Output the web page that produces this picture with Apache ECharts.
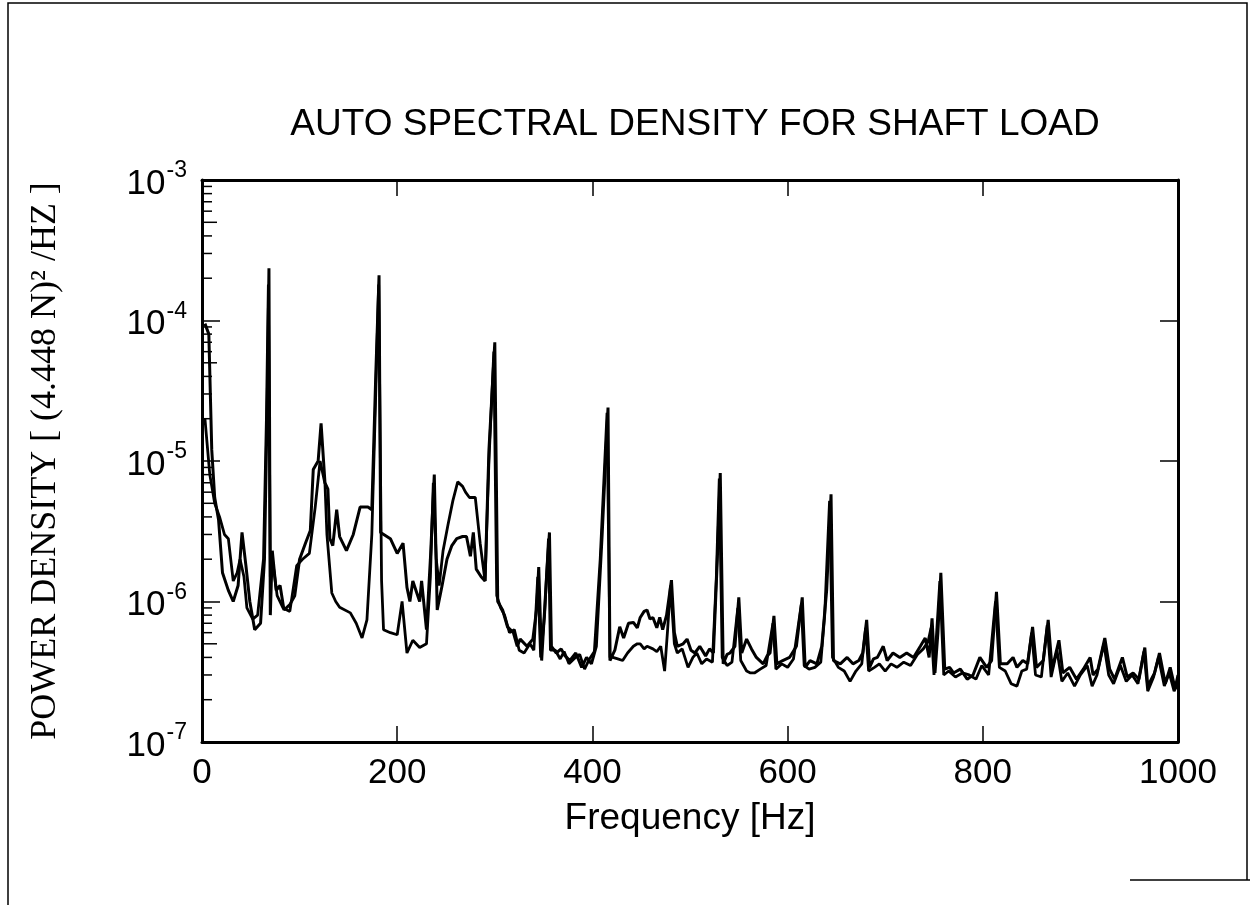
<!DOCTYPE html>
<html>
<head>
<meta charset="utf-8">
<script src="https://cdn.jsdelivr.net/npm/echarts@6/dist/echarts.min.js"></script>
<style>
  html, body { margin: 0; padding: 0; background: #fff; }
  #chart { width: 1250px; height: 905px; }
</style>
</head>
<body>
<div id="chart"></div>
<script>
// ---------- data ----------
const titleText = 'AUTO SPECTRAL DENSITY FOR SHAFT LOAD';
const xAxisTitle = 'Frequency [Hz]';
const yAxisTitle = 'POWER DENSITY [ (4.448 N)\u00B2 /HZ ]';
const xTickValues = [0, 200, 400, 600, 800, 1000];
const yTickExponents = [-7, -6, -5, -4, -3];

// Trace A: frequency [Hz] / power density
const freqA = [3, 7, 10, 13, 17, 21, 27, 32, 37, 41, 45, 49, 54, 60, 64, 67, 68.6, 70, 72, 76, 80, 84, 90, 95, 100, 106, 111, 114, 119, 122, 126, 129, 131, 134, 138, 141, 148, 155, 162, 170, 174, 178, 181.4, 183, 193, 200, 206, 210, 213, 216, 223, 225, 230, 234, 238, 241, 246, 251, 256, 261, 267, 271, 275, 278, 281, 286, 290, 294, 300, 303, 308, 313, 319, 323, 326, 333, 339, 343, 345, 348, 353, 356, 358, 363, 368, 372, 377, 383, 389, 394, 399, 404, 410, 416, 418, 423, 428, 432, 437, 442, 446, 449, 453, 456, 459, 462, 466, 469, 472, 476, 481, 484, 487, 493, 497, 501, 505, 510, 516, 520, 524, 528, 531, 534, 538, 541, 546, 550, 553, 558, 563, 568, 575, 579, 582, 586, 589, 595, 602, 609, 615, 618, 623, 630, 635, 640, 644.5, 647, 654, 661, 667, 673, 677, 681, 684, 688, 692, 698, 702, 708, 715, 722, 729, 736, 741, 745, 748, 751, 754, 757, 761, 766, 770, 777, 784, 790, 797, 804, 809, 814, 818, 825, 831, 835, 841, 846, 851, 855, 862, 867, 871, 878, 882, 889, 896, 903, 910, 913, 918, 925, 930, 935, 943, 948, 954, 960, 966, 969, 976, 981, 987, 992, 997, 1000];
const psdA = [9.5e-5, 8e-5, 1.2e-5, 5.5e-6, 3.8e-6, 1.6e-6, 1.2e-6, 1.0e-6, 1.3e-6, 3.1e-6, 1.8e-6, 1.0e-6, 6.3e-7, 7e-7, 2e-6, 3e-5, 2.35e-4, 8e-7, 2.3e-6, 1.2e-6, 1.3e-6, 8.7e-7, 9.5e-7, 1.1e-6, 2.0e-6, 2.6e-6, 3.2e-6, 8.7e-6, 1.0e-5, 1.85e-5, 7e-6, 6.3e-6, 2.8e-6, 2.5e-6, 4.5e-6, 2.9e-6, 2.3e-6, 3e-6, 4.7e-6, 4.7e-6, 4.5e-6, 4e-5, 2.1e-4, 3.1e-6, 2.8e-6, 2.2e-6, 2.6e-6, 1.26e-6, 1.0e-6, 1.4e-6, 1.0e-6, 1.4e-6, 6.3e-7, 2e-6, 8e-6, 8.7e-7, 1.3e-6, 2e-6, 2.5e-6, 2.8e-6, 2.9e-6, 2.9e-6, 2.1e-6, 3.1e-6, 1.7e-6, 1.5e-6, 1.4e-6, 1.2e-5, 7e-5, 1e-6, 8.7e-7, 6.6e-7, 6e-7, 4.8e-7, 5.4e-7, 4.8e-7, 5.4e-7, 9e-7, 1.76e-6, 3.8e-7, 1.5e-6, 3.1e-6, 4.8e-7, 4.3e-7, 4.6e-7, 4.1e-7, 3.8e-7, 4.3e-7, 3.4e-7, 4e-7, 3.6e-7, 4.8e-7, 3e-6, 2.4e-5, 3.8e-7, 4.5e-7, 6.6e-7, 5.5e-7, 7e-7, 7.1e-7, 6.5e-7, 7.7e-7, 8.5e-7, 8.7e-7, 7.5e-7, 7.7e-7, 6.5e-7, 7.7e-7, 6.3e-7, 8e-7, 1.42e-6, 6e-7, 4.8e-7, 5e-7, 5.4e-7, 4.5e-7, 4.3e-7, 4.8e-7, 4.1e-7, 4.6e-7, 4.3e-7, 2e-6, 8.2e-6, 3.6e-7, 4.2e-7, 4.3e-7, 4.8e-7, 1.07e-6, 4.3e-7, 5.4e-7, 4.6e-7, 4e-7, 3.6e-7, 4.1e-7, 4.3e-7, 7.9e-7, 3.6e-7, 3.8e-7, 4e-7, 4.8e-7, 1.07e-6, 3.4e-7, 3.8e-7, 3.6e-7, 4.8e-7, 1.2e-6, 5.8e-6, 3.8e-7, 3.6e-7, 4e-7, 3.6e-7, 3.8e-7, 4.3e-7, 7.4e-7, 3.4e-7, 3.9e-7, 4e-7, 4.8e-7, 3.8e-7, 4.3e-7, 4e-7, 4.3e-7, 4e-7, 4.8e-7, 5.5e-7, 4e-7, 7.6e-7, 3.1e-7, 6e-7, 1.6e-6, 3.3e-7, 3.4e-7, 3.1e-7, 3.3e-7, 2.8e-7, 3e-7, 4e-7, 3.4e-7, 3.8e-7, 1.17e-6, 3.6e-7, 3.6e-7, 4e-7, 3.4e-7, 3.8e-7, 3.6e-7, 6.6e-7, 3.4e-7, 3.8e-7, 7.4e-7, 3.3e-7, 5.3e-7, 3.1e-7, 3.4e-7, 2.8e-7, 3.3e-7, 4e-7, 3e-7, 3.3e-7, 5.5e-7, 3.3e-7, 2.8e-7, 4e-7, 2.9e-7, 3.1e-7, 2.8e-7, 4.7e-7, 2.5e-7, 3.1e-7, 4.3e-7, 2.6e-7, 3.4e-7, 2.4e-7, 3e-7];

// Trace B: frequency [Hz] / power density
const freqB = [3, 8, 13, 18, 23, 27, 32, 36, 39, 43, 46, 52, 57, 63, 66, 68, 70, 73, 77, 83, 90, 97, 103, 110, 116, 121, 126, 128, 133, 137, 141, 152, 158, 164, 169, 174, 178, 181, 184, 186, 193, 200, 205, 210, 216, 223, 230, 234, 237, 240, 243, 247, 252, 257, 262, 267, 270, 274, 280, 285, 290, 294, 299, 302, 306, 310, 315, 320, 325, 330, 336, 340, 344, 347, 351, 355, 357, 362, 367, 371, 376, 381, 387, 392, 397, 402, 408, 415, 418, 421, 426, 431, 436, 442, 446, 449, 453, 456, 462, 466, 470, 474, 477, 480, 484, 487, 492, 498, 503, 507, 512, 517, 523, 527, 530, 533, 538, 543, 549, 552, 558, 562, 566, 572, 578, 585, 588, 594, 600, 606, 614, 617, 622, 628, 634, 638, 643, 646, 652, 658, 664, 670, 676, 680, 683, 689, 694, 700, 706, 712, 719, 726, 733, 739, 744, 747, 750, 756, 760, 765, 772, 779, 786, 793, 799, 806, 813, 817, 823, 829, 835, 840, 845, 850, 854, 860, 866, 870, 876, 881, 887, 894, 900, 907, 912, 917, 924, 929, 934, 941, 947, 953, 959, 965, 969, 975, 980, 986, 991, 996, 1000];
const psdB = [2e-5, 8e-6, 5e-6, 4e-6, 3e-6, 2.8e-6, 1.4e-6, 1.6e-6, 2e-6, 1.5e-6, 9e-7, 7.5e-7, 8e-7, 2e-6, 2e-5, 1.8e-4, 1.5e-6, 1.8e-6, 1.1e-6, 9e-7, 8.5e-7, 1.8e-6, 2e-6, 2.2e-6, 4.7e-6, 1e-5, 6.9e-6, 3e-6, 1.15e-6, 1e-6, 9.1e-7, 8.3e-7, 7e-7, 5.5e-7, 7.4e-7, 3e-6, 3e-5, 1.8e-4, 1.4e-6, 6.3e-7, 6e-7, 5.8e-7, 1e-6, 4.3e-7, 5.3e-7, 4.7e-7, 5e-7, 1.5e-6, 7e-6, 2e-6, 1.3e-6, 2.3e-6, 3.5e-6, 5.2e-6, 7.1e-6, 6.6e-6, 6e-6, 5.5e-6, 5.5e-6, 2.6e-6, 1.4e-6, 1e-5, 6e-5, 1.1e-6, 9e-7, 8e-7, 6e-7, 6.3e-7, 4.5e-7, 4.3e-7, 5e-7, 4.5e-7, 1.5e-6, 4e-7, 8e-7, 2.8e-6, 4.5e-7, 4.5e-7, 3.9e-7, 4.4e-7, 3.6e-7, 3.9e-7, 4.2e-7, 3.3e-7, 3.9e-7, 4.4e-7, 2e-6, 2.2e-5, 4e-7, 4e-7, 3.9e-7, 3.8e-7, 4.3e-7, 4.8e-7, 5e-7, 5e-7, 4.6e-7, 4.8e-7, 4.6e-7, 4.4e-7, 4.8e-7, 3.2e-7, 6.2e-7, 1.3e-6, 5e-7, 4.3e-7, 4.6e-7, 3.4e-7, 4e-7, 4.3e-7, 3.6e-7, 3.9e-7, 3.7e-7, 1.5e-6, 7.5e-6, 4e-7, 3.5e-7, 3.7e-7, 9e-7, 3.8e-7, 3.2e-7, 3.1e-7, 3.1e-7, 3.3e-7, 3.5e-7, 7e-7, 3.3e-7, 3.6e-7, 3.4e-7, 3.9e-7, 9.5e-7, 3.5e-7, 3.3e-7, 3.4e-7, 3.7e-7, 8e-7, 5.2e-6, 4e-7, 3.4e-7, 3.2e-7, 2.7e-7, 3.2e-7, 3.6e-7, 6.5e-7, 3.2e-7, 3.4e-7, 3.6e-7, 3.2e-7, 3.6e-7, 3.4e-7, 3.7e-7, 3.5e-7, 4.2e-7, 4.6e-7, 5.2e-7, 6.5e-7, 3e-7, 1.4e-6, 3e-7, 3.2e-7, 2.9e-7, 3.1e-7, 3e-7, 2.8e-7, 3.5e-7, 3e-7, 1.0e-6, 3.4e-7, 3.2e-7, 2.6e-7, 2.5e-7, 3.2e-7, 3.3e-7, 6e-7, 3e-7, 2.9e-7, 6.8e-7, 2.9e-7, 4.5e-7, 2.7e-7, 3.1e-7, 2.5e-7, 3e-7, 3.5e-7, 2.5e-7, 3e-7, 5e-7, 3e-7, 2.6e-7, 3.5e-7, 2.7e-7, 3e-7, 2.6e-7, 4.4e-7, 2.3e-7, 2.9e-7, 4e-7, 2.5e-7, 3.1e-7, 2.3e-7, 2.6e-7];

// ---------- build chart ----------
const pairs = (xs, ys) => xs.map((x, i) => [x, ys[i]]);

// log-axis minor tick positions (2..9 x 10^e) within each decade
const minorTicks = [];
for (let i = 0; i < yTickExponents.length - 1; i++) {
  for (let k = 2; k <= 9; k++) minorTicks.push([0, k * Math.pow(10, yTickExponents[i]), k]);
}

const SANS = '"Liberation Sans", Arial, Helvetica, sans-serif';
const SERIF = '"Liberation Serif", "Times New Roman", serif';
const yMin = Math.pow(10, yTickExponents[0]);
const yMax = Math.pow(10, yTickExponents[yTickExponents.length - 1]);

const chart = echarts.init(document.getElementById('chart'), null, { renderer: 'canvas' });

const axisLineStyle = { show: true, onZero: false, lineStyle: { color: '#000', width: 3 } };

chart.setOption({
  backgroundColor: '#fff',
  animation: false,
  title: {
    text: titleText,
    left: 690,
    top: 101,
    textAlign: 'center',
    textStyle: { fontFamily: SANS, fontSize: 37, fontWeight: 'normal', color: '#000' }
  },
  grid: { left: 202, right: 72, top: 180, bottom: 163, containLabel: false },
  xAxis: [
    {
      type: 'value', position: 'bottom', min: 0, max: 1000, interval: 200,
      axisLine: axisLineStyle,
      axisTick: { show: true, inside: true, length: 16, lineStyle: { color: '#000', width: 1.5 } },
      axisLabel: {
        margin: 14, fontFamily: SANS, fontSize: 35, color: '#000',
        formatter: v => (xTickValues.indexOf(v) >= 0 ? String(v) : '')
      },
      splitLine: { show: false },
      name: xAxisTitle, nameLocation: 'middle', nameGap: 58,
      nameTextStyle: { fontFamily: SANS, fontSize: 37, color: '#000' }
    },
    {
      type: 'value', position: 'top', min: 0, max: 1000, interval: 200,
      axisLine: axisLineStyle,
      axisTick: { show: true, inside: true, length: 16, lineStyle: { color: '#000', width: 1.5 } },
      axisLabel: { show: false },
      splitLine: { show: false }
    }
  ],
  yAxis: [
    {
      type: 'log', logBase: 10, position: 'left', min: yMin, max: yMax, splitNumber: 4,
      axisLine: axisLineStyle,
      axisTick: { show: true, inside: true, length: 18, lineStyle: { color: '#000', width: 1.5 } },
      axisLabel: {
        margin: 15, color: '#000',
        formatter: v => {
          const e = Math.round(Math.log10(v));
          return yTickExponents.indexOf(e) >= 0 ? '{b|10}{s|' + e + '}' : '';
        },
        rich: {
          b: { fontFamily: SANS, fontSize: 35, color: '#000', padding: [8, 0, 0, 0] },
          s: { fontFamily: SANS, fontSize: 23, color: '#000', padding: [0, 0, 18, 1] }
        }
      },
      splitLine: { show: false },
      name: yAxisTitle, nameLocation: 'middle', nameGap: 138, nameRotate: 90,
      nameTextStyle: { fontFamily: SERIF, fontSize: 36, color: '#000' }
    },
    {
      type: 'log', logBase: 10, position: 'right', min: yMin, max: yMax, splitNumber: 4,
      axisLine: axisLineStyle,
      axisTick: { show: true, inside: true, length: 18, lineStyle: { color: '#000', width: 1.5 } },
      axisLabel: { show: false },
      splitLine: { show: false }
    }
  ],
  series: [
    {
      type: 'line', name: 'B', data: pairs(freqB, psdB), xAxisIndex: 0, yAxisIndex: 0,
      showSymbol: false, symbol: 'none',
      lineStyle: { color: '#000', width: 2.8 }, z: 3
    },
    {
      type: 'line', name: 'A', data: pairs(freqA, psdA), xAxisIndex: 0, yAxisIndex: 0,
      showSymbol: false, symbol: 'none',
      lineStyle: { color: '#000', width: 3 }, z: 4
    },
    {
      type: 'custom', name: 'minorTicks', data: minorTicks, xAxisIndex: 0, yAxisIndex: 0,
      clip: false, silent: true, z: 5,
      renderItem: (params, api) => {
        const p = api.coord([api.value(0), api.value(1)]);
        const len = api.value(2) === 5 ? 15 : 10;
        return {
          type: 'line',
          shape: { x1: p[0], y1: p[1], x2: p[0] + len, y2: p[1] },
          style: { stroke: '#000', lineWidth: 1.5 }
        };
      }
    }
  ],
  graphic: [
    { type: 'polyline', shape: { points: [[8, 905], [8, 3], [1247, 3], [1247, 880]] }, style: { stroke: '#000', lineWidth: 1.5, fill: null } },
    { type: 'line', shape: { x1: 1130, y1: 880, x2: 1250, y2: 880 }, style: { stroke: '#000', lineWidth: 1.5 } }
  ]
});
</script>
</body>
</html>
